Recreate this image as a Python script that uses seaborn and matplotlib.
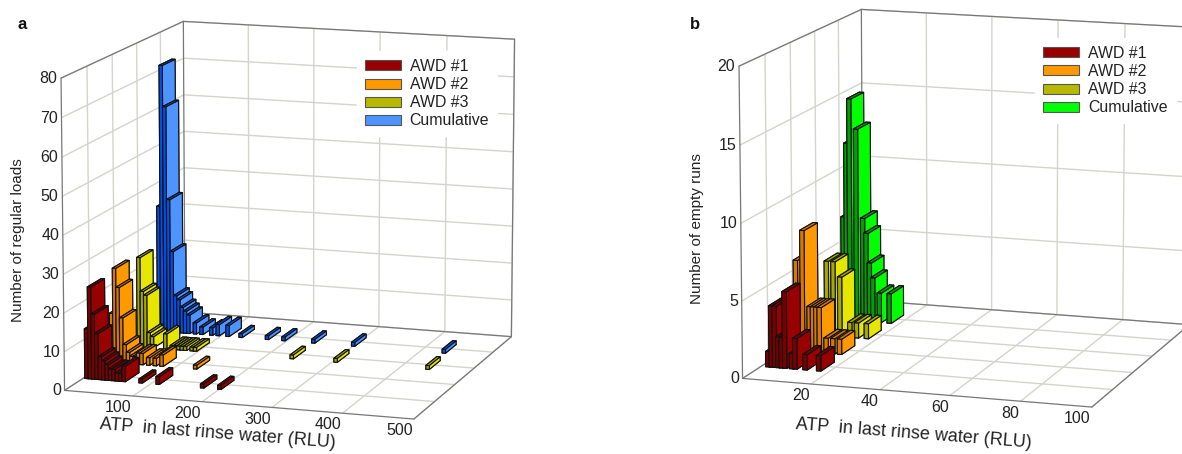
import matplotlib
matplotlib.use("Agg")
import matplotlib.pyplot as plt
from matplotlib.patches import Patch
import seaborn as sns

# panel a, regular loads
a1_atp = [5, 10, 15, 20, 25, 30, 35, 40, 45, 50, 55, 60, 85, 110, 175, 200]
a1_cnt = [13, 24, 17, 12, 6, 5, 4, 3, 3, 2, 2, 4, 1, 2, 1, 1]
a2_atp = [5, 10, 15, 20, 25, 30, 35, 40, 45, 50, 60, 70, 80, 130]
a2_cnt = [13, 25, 20, 12, 5, 3, 2, 2, 3, 3, 2, 2, 3, 1]
a3_atp = [5, 10, 15, 20, 25, 30, 50, 60, 65, 70, 75, 80, 90, 95, 240, 305, 440]
a3_cnt = [8, 24, 15, 14, 4, 3, 4, 1, 1, 1, 1, 1, 1, 1, 1, 1, 1]
a4_atp = [5, 10, 15, 20, 25, 30, 35, 40, 45, 50, 60, 70, 85, 95, 110, 130, 170, 195, 240, 300, 435]
a4_cnt = [34, 72, 61, 36, 22, 10, 9, 7, 6, 5, 3, 2, 2, 3, 3, 1, 1, 1, 1, 1, 1]

# panel b, empty runs
b1_atp = [2, 3, 4, 5, 6, 7, 9, 10, 13, 17]
b1_cnt = [1, 4, 4, 2, 2, 5, 1, 2, 1, 1]
b2_atp = [3, 5, 7, 8, 9, 10, 12, 14, 16]
b2_cnt = [6, 8, 3, 3, 3, 3, 1, 1, 1]
b3_atp = [5, 7, 9, 12, 14, 17]
b3_cnt = [5, 5, 4, 1, 1, 1]
b4_atp = [3, 4, 5, 7, 9, 10, 11, 12, 14, 17]
b4_cnt = [7, 12, 15, 13, 7, 6, 4, 3, 2, 2]

labels_a = ["AWD #1", "AWD #2", "AWD #3", "Cumulative"]
faces_a = ["#990000", "#FF9900", "#E6E600", "#4D94FF"]
sides_a = ["#7A0000", "#D97800", "#A8A800", "#0050F0"]
legend_a = ["#990000", "#FF9900", "#B8B800", "#4D94FF"]
faces_b = ["#990000", "#FF9900", "#E6E600", "#00FF00"]
sides_b = ["#7A0000", "#D97800", "#A8A800", "#00A000"]
legend_b = ["#990000", "#FF9900", "#B8B800", "#00FF00"]

sns.set_theme(style="white")
plt.rcParams["font.family"] = ["Liberation Sans", "DejaVu Sans"]
GRID = "#d4d4cc"
EDGE = "#777777"


def draw_panel(left, bottom, xs, ys, faces, sides, xmax, zmax, xticks, zticks, bar_w):
    ax = fig.add_axes([left, bottom, 0.62, 1.10], projection="3d")
    ax.set_proj_type("persp", focal_length=1.6)
    ax.view_init(elev=11.9, azim=-71.9)
    ax.set_box_aspect((363, 359, 316), zoom=1.15)
    ax.patch.set_alpha(0)
    ax.computed_zorder = False
    ax.set_xlim(0, xmax)
    ax.set_ylim(0, 5)
    ax.set_zlim(0, zmax)
    ax.set_xticks(xticks)
    ax.set_yticks(range(1, 5))
    ax.set_yticklabels([])
    ax.set_zticks(zticks)
    ax.tick_params(labelsize=11.5, colors="#222222", pad=-6.5)
    ax.tick_params(axis="x", pad=-6)
    for axis in (ax.xaxis, ax.yaxis, ax.zaxis):
        axis.pane.set_facecolor((1, 1, 1, 1))
        axis.pane.set_edgecolor((1, 1, 1, 0))
        axis.line.set_color((1, 1, 1, 0))
        axis._axinfo["grid"].update(color=GRID, linewidth=1.0)
        axis._axinfo["tick"]["inward_factor"] = 0
        axis._axinfo["tick"]["outward_factor"] = 0
    ax.zaxis.set_ticks_position("lower")
    for t in ax.zaxis.get_ticklabels() + ax.xaxis.get_ticklabels():
        t.set_ha("right")
    for t in ax.zaxis.get_ticklabels():
        t.set_va("center")
    ax.grid(True)

    # frame of the box
    frame = [([0, 0], [0, 5], [zmax, zmax]), ([0, xmax], [5, 5], [zmax, zmax]),
             ([xmax, xmax], [5, 5], [0, zmax]), ([0, 0], [5, 5], [0, zmax]),
             ([0, 0], [0, 0], [0, zmax]), ([0, xmax], [0, 0], [0, 0]),
             ([xmax, xmax], [0, 5], [0, 0]), ([0, 0], [0, 5], [0, 0]),
             ([0, xmax], [5, 5], [0, 0])]
    for fx, fy, fz in frame:
        ax.plot(fx, fy, fz, color=EDGE, lw=0.9, zorder=1)

    # back rows first, then left to right, so nearer bars cover the others
    order = 10
    for s in range(3, -1, -1):
        for atp, cnt in zip(xs[s], ys[s]):
            cols = [sides[s], sides[s], sides[s], sides[s], faces[s], faces[s]]
            ax.bar3d(atp - bar_w / 2, s + 1 - 0.275, 0, bar_w, 0.55, cnt, color=cols,
                     shade=False, edgecolor="#111111", linewidth=0.8, zorder=order)
            order += 1
    return ax


fig = plt.figure(figsize=(11.82, 4.54), dpi=100)
draw_panel(-0.0673, -0.031, [a1_atp, a2_atp, a3_atp, a4_atp], [a1_cnt, a2_cnt, a3_cnt, a4_cnt],
           faces_a, sides_a, 500, 80, range(100, 501, 100), range(0, 81, 10), 5)
draw_panel(0.5063, -0.0046, [b1_atp, b2_atp, b3_atp, b4_atp], [b1_cnt, b2_cnt, b3_cnt, b4_cnt],
           faces_b, sides_b, 100, 20, range(20, 101, 20), range(0, 21, 5), 1.3)

for pos, cols in (((0.295, 0.905), legend_a), ((0.869, 0.934), legend_b)):
    handles = [Patch(facecolor=c, edgecolor="#555555", linewidth=0.8) for c in cols]
    leg = fig.legend(handles, labels_a, loc="upper left", bbox_to_anchor=pos, fontsize=11.4,
                     handlelength=2.3, handleheight=0.6, labelspacing=0.2,
                     handletextpad=0.55, borderpad=0.5, frameon=True, framealpha=1,
                     edgecolor="white", facecolor="white", labelcolor="#222222")
    leg.set_zorder(50)

fig.text(0.0186, 0.947, "a", fontsize=12, fontweight="bold", ha="center", va="center", color="#111111")
fig.text(0.588, 0.947, "b", fontsize=12, fontweight="bold", ha="center", va="center", color="#111111")
fig.text(0.0155, 0.471, "Number of regular loads", rotation=90, fontsize=11, ha="center", va="center", color="#222222")
fig.text(0.59, 0.496, "Number of empty runs", rotation=90, fontsize=11, ha="center", va="center", color="#222222")
fig.text(0.1844, 0.044, "ATP  in last rinse water (RLU)", rotation=-4.5, fontsize=13, ha="center", va="center", color="#222222")
fig.text(0.7733, 0.044, "ATP  in last rinse water (RLU)", rotation=-4.5, fontsize=13, ha="center", va="center", color="#222222")

fig.savefig("out.png", dpi=100)
